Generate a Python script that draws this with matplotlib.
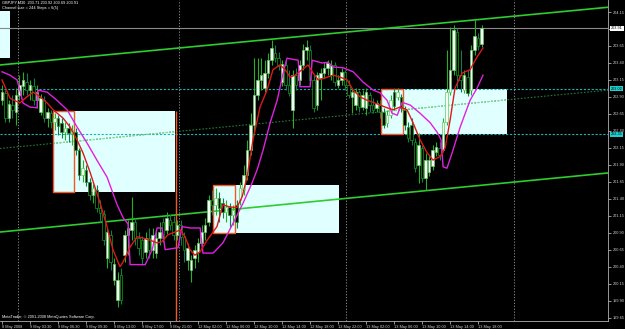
import numpy as np
import matplotlib
matplotlib.use("Agg")
import matplotlib.pyplot as plt
from matplotlib.patches import Rectangle
from matplotlib.transforms import blended_transform_factory

plt.rcParams['font.family'] = ['Liberation Sans', 'DejaVu Sans']

# GBPJPY M30 bars (open, high, low, close)
opens = [202.85, 202.96, 202.59, 202.78, 202.68, 202.93, 203.06, 203.12, 203.00, 203.06,
         202.85, 202.68, 202.85, 202.59, 202.66, 202.53, 202.59, 202.52, 202.38, 202.44,
         202.37, 202.38, 202.12, 201.75, 201.83, 201.65, 201.46, 201.53, 201.27, 201.18,
         200.53, 200.87, 200.21, 199.91, 200.28, 200.57, 200.87, 200.94, 201.06, 200.82,
         200.79, 200.62, 200.82, 200.65, 200.60, 200.82, 201.06, 200.94, 201.09, 201.06,
         200.87, 201.02, 200.84, 200.50, 200.35, 200.53, 200.62, 200.75, 200.91, 201.06,
         201.38, 201.31, 201.41, 201.34, 201.21, 201.28, 201.16, 201.31, 201.38, 201.53,
         201.75, 202.12, 202.49, 202.93, 203.15, 203.03, 203.25, 203.44, 203.55, 203.47,
         203.12, 203.37, 203.08, 202.71, 203.22, 203.15, 203.37, 203.59, 203.59, 203.15,
         202.78, 203.18, 203.25, 203.33, 203.22, 203.37, 203.08, 203.15, 203.27, 203.08,
         202.90, 202.78, 202.97, 202.75, 202.74, 202.93, 202.78, 202.74, 202.78, 202.68,
         202.52, 202.63, 202.97, 202.90, 202.90, 202.71, 202.46, 202.49, 202.24, 201.90,
         202.15, 201.71, 201.80, 201.88, 202.09, 202.15, 202.12, 202.53, 202.97, 203.30,
         203.86, 203.22, 203.00, 203.19, 203.00, 203.59, 203.77, 203.68]
highs = [203.08, 203.00, 202.85, 202.93, 203.03, 203.22, 203.27, 203.25, 203.15, 203.18,
         203.08, 202.94, 202.91, 202.74, 202.71, 202.66, 202.63, 202.59, 202.53, 202.52,
         202.49, 202.44, 202.15, 201.97, 201.90, 201.71, 201.62, 201.60, 201.38, 201.24,
         200.97, 200.94, 200.53, 200.32, 200.38, 200.94, 201.09, 201.43, 201.12, 200.91,
         200.85, 200.91, 200.97, 200.97, 200.91, 201.06, 201.12, 201.21, 201.18, 201.15,
         201.09, 201.09, 200.91, 200.75, 200.57, 200.72, 200.82, 201.02, 201.12, 201.46,
         201.53, 201.56, 201.50, 201.41, 201.38, 201.34, 201.31, 201.38, 201.65, 201.90,
         202.27, 202.66, 203.47, 203.47, 203.47, 203.44, 203.55, 203.74, 203.67, 203.56,
         203.44, 203.44, 203.30, 203.30, 203.33, 203.44, 203.68, 203.74, 203.67, 203.22,
         203.27, 203.33, 203.41, 203.44, 203.44, 203.41, 203.22, 203.33, 203.30, 203.15,
         203.03, 203.03, 203.00, 203.00, 203.03, 202.97, 202.88, 202.85, 202.85, 202.74,
         202.71, 202.93, 203.03, 203.03, 202.94, 202.77, 202.53, 202.59, 202.30, 202.37,
         202.19, 202.08, 202.05, 202.19, 202.24, 202.24, 202.59, 203.59, 203.93, 203.96,
         203.91, 203.59, 203.30, 203.30, 203.67, 204.03, 203.84, 203.96]
lows = [202.78, 202.53, 202.53, 202.59, 202.49, 202.85, 202.93, 202.93, 202.85, 202.78,
        202.74, 202.63, 202.53, 202.46, 202.44, 202.41, 202.34, 202.30, 202.27, 202.24,
        202.19, 202.05, 201.68, 201.65, 201.59, 201.38, 201.34, 201.21, 201.06, 200.72,
        200.38, 200.35, 200.13, 199.81, 199.85, 200.47, 200.57, 200.79, 200.72, 200.57,
        200.43, 200.53, 200.53, 200.53, 200.53, 200.72, 200.77, 200.88, 200.94, 200.79,
        200.79, 200.72, 200.47, 200.35, 200.18, 200.38, 200.47, 200.65, 200.79, 201.00,
        201.16, 201.16, 201.06, 201.12, 201.06, 200.99, 201.02, 200.97, 201.31, 201.46,
        201.68, 202.05, 202.34, 202.85, 203.00, 202.97, 203.18, 203.37, 203.41, 203.30,
        203.06, 203.00, 202.91, 202.44, 203.00, 203.08, 203.30, 203.44, 203.08, 202.68,
        202.71, 202.85, 203.18, 203.22, 203.15, 203.06, 203.03, 203.08, 203.00, 202.88,
        202.66, 202.71, 202.68, 202.71, 202.63, 202.68, 202.66, 202.68, 202.59, 202.44,
        202.46, 202.59, 202.71, 202.85, 202.68, 202.41, 202.24, 202.19, 201.80, 201.63,
        201.65, 201.53, 201.74, 201.83, 202.03, 201.97, 202.09, 202.49, 202.93, 203.22,
        203.03, 202.97, 202.96, 202.91, 202.93, 203.52, 203.59, 203.64]
closes = [202.97, 202.59, 202.80, 202.71, 202.93, 203.08, 203.15, 203.00, 203.08, 202.85,
          202.97, 202.88, 202.59, 202.68, 202.53, 202.59, 202.47, 202.38, 202.44, 202.37,
          202.41, 202.12, 201.75, 201.85, 201.65, 201.46, 201.56, 201.27, 201.19, 200.79,
          200.91, 200.47, 200.44, 200.21, 199.91, 200.87, 200.97, 201.06, 200.82, 200.68,
          200.53, 200.82, 200.65, 200.87, 200.82, 200.91, 200.82, 201.12, 201.02, 200.87,
          201.02, 200.84, 200.65, 200.68, 200.50, 200.65, 200.75, 200.91, 201.02, 201.38,
          201.31, 201.41, 201.27, 201.21, 201.28, 201.16, 201.24, 201.06, 201.56, 201.75,
          202.12, 202.49, 202.93, 203.15, 203.22, 203.25, 203.44, 203.62, 203.47, 203.37,
          203.39, 203.08, 202.96, 203.22, 203.08, 203.37, 203.59, 203.64, 203.15, 202.74,
          203.22, 203.25, 203.33, 203.40, 203.37, 203.12, 203.15, 203.27, 203.08, 202.93,
          202.97, 202.97, 202.75, 202.93, 202.97, 202.78, 202.71, 202.81, 202.68, 202.49,
          202.63, 202.85, 202.77, 202.97, 202.74, 202.49, 202.30, 202.27, 201.85, 202.19,
          201.71, 201.97, 201.97, 202.12, 202.16, 202.05, 202.53, 202.97, 203.30, 203.89,
          203.22, 203.15, 203.22, 202.96, 203.59, 203.80, 203.65, 203.91]

# moving averages (bar index, price)
red_x = [0, 2.3, 5.1, 7.1, 8.9, 10.9, 12.9, 14.6, 17.4, 19.4, 21.4, 23.1, 25.1, 28, 30,
         31.7, 33.7, 34.6, 36.6, 38.6, 40.3, 42.3, 44.3, 45.7, 47.4, 49.4, 50.9, 52.3,
         53.7, 55.1, 56.6, 58.6, 61.4, 63.1, 65.1, 67.1, 68.6, 70, 71.7, 73.7, 75.7, 77.4,
         79.4, 80.9, 82.3, 83.7, 85.7, 87.4, 88.9, 90.3, 92.3, 94.6, 96.6, 98.6, 100.3,
         102.3, 104.3, 106, 108, 110, 111.7, 113.7, 115.7, 117.4, 119.4, 121.4, 123.1,
         125.1, 126.6, 128, 129.4, 131.4, 133.7, 135.7, 137.4]
red_y = [203.15, 202.88, 202.81, 202.90, 202.97, 202.90, 202.81, 202.71, 202.59, 202.46,
         202.27, 202.08, 201.80, 201.34, 200.99, 200.65, 200.40, 200.47, 200.69, 200.84,
         200.82, 200.79, 200.75, 200.77, 200.87, 200.91, 200.94, 200.84, 200.65, 200.57,
         200.62, 200.79, 200.99, 201.31, 201.28, 201.27, 201.43, 201.72, 202.27, 202.75,
         203.00, 203.30, 203.37, 203.30, 203.19, 203.22, 203.30, 203.37, 203.25, 203.15,
         203.18, 203.22, 203.19, 203.15, 203.00, 202.90, 202.85, 202.82, 202.78, 202.74,
         202.71, 202.75, 202.71, 202.52, 202.27, 202.08, 201.97, 202.02, 202.15, 202.56,
         203.03, 203.25, 203.30, 203.49, 203.62]
mag_x = [0, 2.3, 4.3, 5.1, 6, 8, 10, 10.3, 12.9, 15.7, 18.6, 21.4, 24.3, 27.1, 30, 32.9,
         34.6, 36, 36.6, 40.9, 42.9, 44.3, 45.7, 46.6, 50.3, 51.4, 53.7, 56.6, 57.4, 60.3,
         63.1, 66, 68.9, 71.4, 72.9, 74.6, 76.6, 78.6, 80.3, 81.4, 84.6, 85.1, 88, 88.6,
         91.4, 93.1, 94.6, 97.4, 100.3, 103.1, 106, 108, 110, 111.4, 112.9, 114.3, 116.6,
         119.4, 122.3, 124.3, 125.4, 126, 127.1, 128.6, 130.9, 133.7, 135.7, 137.4]
mag_y = [203.27, 203.22, 203.15, 203.00, 202.81, 202.75, 202.74, 203.00, 202.97, 202.85,
         202.71, 202.46, 202.22, 201.97, 201.72, 201.31, 201.12, 201.03, 200.43, 200.43,
         200.65, 200.97, 200.97, 200.65, 200.68, 200.99, 200.97, 200.97, 200.60, 200.60,
         200.75, 201.04, 201.34, 201.63, 201.83, 202.12, 202.52, 202.85, 203.25, 203.47,
         203.44, 203.05, 203.05, 203.44, 203.40, 203.41, 203.34, 203.33, 203.27, 203.12,
         203.00, 202.96, 202.85, 202.66, 202.63, 202.82, 202.78, 202.66, 202.52, 202.38,
         202.27, 201.87, 201.85, 202.08, 202.46, 202.85, 203.03, 203.22]

# channel lines (bar index, price) at both ends
chan_x = [-0.6, 173.1]
chan_top = [203.37, 204.22]
chan_bottom = [200.91, 201.78]
chan_mid = [202.14, 203.00]

# rectangles: left bar, right bar, orange part right bar, low, high
boxes = [(14.6, 49.4, 20.6, 201.50, 202.69),
         (60.3, 96.3, 66.6, 200.90, 201.60),
         (108.3, 144.3, 114.6, 202.35, 203.02)]
corner_box = (-0.6, 2.3, 203.47, 204.16)

level_lines = [203.02, 202.35]
bid = 203.91
separators = [4.6, 50.6, 98.3, 146.3]
orange_vline = 49.6

tick_bars = list(range(0, 137, 8))
tick_labels = ["8 May 2008", "9 May 03:30", "9 May 06:30", "9 May 09:30", "9 May 13:00",
               "9 May 17:00", "9 May 21:00", "12 May 02:00", "12 May 06:00", "12 May 10:00",
               "12 May 14:00", "12 May 18:00", "12 May 22:00", "13 May 02:00",
               "13 May 06:00", "13 May 10:00", "13 May 14:00", "13 May 18:00"]
price_ticks = [199.65 + 0.25 * k for k in range(19)]

W, H = 625, 329
FS = 2.8
fig = plt.figure(figsize=(W / 100, H / 100), dpi=100, facecolor="black")
ax = fig.add_axes([0, 1 - 321 / H, 608 / W, 321 / H], facecolor="black")
ax.set_xlim(-0.57, 173.1)
ax.set_ylim(199.60, 204.327)

# boxes
box_fill = "#e0ffff"
box_patches = []
for x0, x1, xo, lo, hi in boxes:
    r = Rectangle((x0, lo), x1 - x0, hi - lo, facecolor=box_fill, edgecolor="none", zorder=1)
    ax.add_patch(r)
    box_patches.append(r)
    ax.add_patch(Rectangle((x0, lo), xo - x0, hi - lo, facecolor="none",
                           edgecolor="#f05a28", lw=1.0, zorder=3))
cb = corner_box
ax.add_patch(Rectangle((cb[0], cb[2]), cb[1] - cb[0], cb[3] - cb[2],
                       facecolor=box_fill, edgecolor="none", zorder=1))

# separators, levels
for s in separators:
    ax.axvline(s, color="#9a9a9a", lw=0.6, ls=(0, (1.5, 2)), zorder=0.5)
ax.vlines(orange_vline, 199.60, boxes[0][4], color="#f05a28", lw=1.0, zorder=3)
for lv in level_lines:
    ax.axhline(lv, color="#19b5b5", lw=0.8, ls=(0, (2, 1.5)), zorder=2)
ax.axhline(bid, color="#8a8a8a", lw=0.8, zorder=2)

# channel
ax.plot(chan_x, chan_top, color="#2ecc2e", lw=1.2, zorder=2)
ax.plot(chan_x, chan_bottom, color="#2ecc2e", lw=1.2, zorder=2)
ax.plot(chan_x, chan_mid, color="#1f7a3a", lw=0.8, ls=(0, (1.5, 1.5)), zorder=2)
for bp in box_patches:
    ln, = ax.plot(chan_x, chan_mid, color="#8fe08f", lw=0.8, ls=(0, (1.5, 1.5)), zorder=2.1)
    ln.set_clip_path(bp)

# candles
o = np.array(opens); h = np.array(highs); l = np.array(lows); c = np.array(closes)
idx = np.arange(len(o))
up = c >= o
dn = ~up
ax.vlines(idx[up], l[up], h[up], color="#27b027", lw=0.8, zorder=4)
ax.vlines(idx[dn], l[dn], h[dn], color="#117a55", lw=0.8, zorder=4)
body_lo = np.minimum(o, c)
body_h = np.maximum(np.abs(c - o), 0.012)
ax.bar(idx[up], body_h[up], bottom=body_lo[up], width=0.72, color="#effff0",
       edgecolor="#6cc46c", lw=0.5, zorder=5)
ax.bar(idx[dn], body_h[dn], bottom=body_lo[dn], width=0.72, color="black",
       edgecolor="#15a015", lw=0.5, zorder=5)

# moving averages
ax.plot(mag_x, mag_y, color="#e020e0", lw=1.0, zorder=6)
ax.plot(red_x, red_y, color="#e01818", lw=1.0, zorder=7)

# axes styling
for sp in ["top", "left"]:
    ax.spines[sp].set_visible(False)
ax.spines["right"].set_color("#b0b0b0")
ax.spines["right"].set_linewidth(0.6)
ax.spines["bottom"].set_color("#b0b0b0")
ax.spines["bottom"].set_linewidth(0.6)
ax.yaxis.tick_right()
ax.set_yticks(price_ticks)
ax.set_yticklabels([f"{p:.2f}" for p in price_ticks])
ax.tick_params(axis="y", colors="#d0d0d0", labelsize=FS, length=2, width=0.5, pad=1.2)
ax.set_xticks(tick_bars)
ax.set_xticklabels(tick_labels, ha="left")
ax.tick_params(axis="x", colors="#d0d0d0", labelsize=FS, length=2, width=0.5, pad=0.8)

# price labels on the axis
tr = blended_transform_factory(ax.transAxes, ax.transData)
ax.text(1.005, bid, f"{bid:.2f}", transform=tr, fontsize=FS, color="black", va="center",
        ha="left", bbox=dict(facecolor="white", edgecolor="none", pad=0.5), zorder=10,
        clip_on=False)
for lv in level_lines:
    ax.text(1.005, lv, f"{lv:.2f}", transform=tr, fontsize=FS, color="black", va="center",
            ha="left", bbox=dict(facecolor="#20d0d0", edgecolor="none", pad=0.5), zorder=10,
            clip_on=False)

# header and footer texts
fig.text(2 / W, 1 - 1 / H, "GBPJPY,M30  203.71 203.92 203.69 203.91", color="white",
         fontsize=FS, va="top", ha="left")
fig.text(2 / W, 1 - 6 / H, "Channel size = 244 Steps = 6(5)", color="white",
         fontsize=FS, va="top", ha="left")
fig.text(2 / W, 1 - 319 / H, "MetaTrader, \u00a9 2001-2008 MetaQuotes Software Corp.",
         color="white", fontsize=FS, va="bottom", ha="left")

fig.savefig("out.png", dpi=100, facecolor="black")
